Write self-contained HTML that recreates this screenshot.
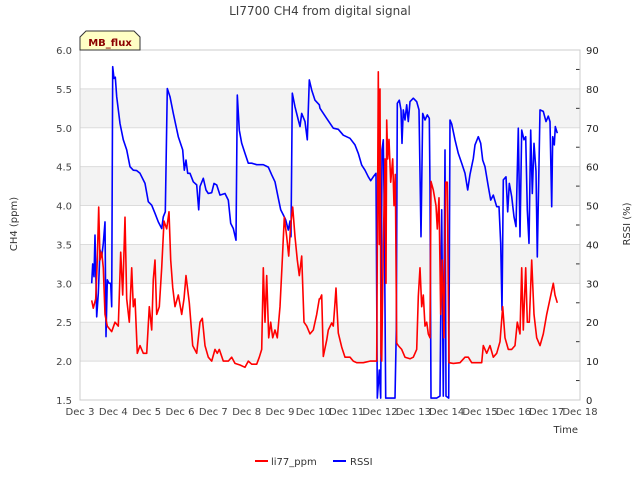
<!DOCTYPE html>
<html><head><meta charset="utf-8"><style>
body{margin:0;background:#fff;}
svg{display:block;font-family:"DejaVu Sans","Liberation Sans",sans-serif;}
</style></head><body>
<svg id="chart" width="640" height="480" viewBox="0 0 640 480" xmlns="http://www.w3.org/2000/svg">
<rect width="640" height="480" fill="#fff"/>
<text x="320" y="15" text-anchor="middle" font-size="12" fill="#404040">LI7700 CH4 from digital signal</text>
<g id="plot"></g>
<text transform="translate(17,224) rotate(-90)" text-anchor="middle" font-size="10" fill="#333">CH4 (ppm)</text>
<text transform="translate(630,224) rotate(-90)" text-anchor="middle" font-size="10" fill="#333">RSSI (%)</text>
<text x="578" y="433" text-anchor="end" font-size="10" fill="#333">Time</text>
<g>
<path d="M80,50 L80,37 L86,31 L134,31 L140,37 L140,50 Z" fill="#ffffc4" stroke="#333" stroke-width="1"/>
<text x="110" y="46" text-anchor="middle" font-size="10" font-weight="bold" fill="#8b0000">MB_flux</text>
</g>
<g>
<g><line x1="255" y1="461" x2="268" y2="461" stroke="#f00" stroke-width="2"/><text x="271" y="465" font-size="10" fill="#333">li77_ppm</text></g>
<g><line x1="333" y1="461" x2="346" y2="461" stroke="#00f" stroke-width="2"/><text x="350" y="465" font-size="10" fill="#333">RSSI</text></g>
</g>
</svg>
<script>
const xTickLabels=["Dec 3","Dec 4","Dec 5","Dec 6","Dec 7","Dec 8","Dec 9","Dec 10","Dec 11","Dec 12","Dec 13","Dec 14","Dec 15","Dec 16","Dec 17","Dec 18"];
const yTicks=[1.5,2.0,2.5,3.0,3.5,4.0,4.5,5.0,5.5,6.0];
const y2Ticks=[0,10,20,30,40,50,60,70,80,90];
const ch4Days=[0.35,0.4,0.47,0.52,0.56,0.6,0.65,0.7,0.75,0.82,0.95,1.05,1.15,1.22,1.28,1.35,1.4,1.48,1.55,1.6,1.65,1.72,1.8,1.9,2.0,2.08,2.15,2.2,2.25,2.3,2.38,2.45,2.52,2.6,2.67,2.72,2.78,2.85,2.95,3.05,3.12,3.18,3.28,3.38,3.5,3.6,3.67,3.75,3.85,3.95,4.05,4.12,4.18,4.3,4.45,4.55,4.65,4.8,4.95,5.05,5.15,5.3,5.38,5.45,5.5,5.55,5.6,5.66,5.72,5.78,5.85,5.92,6.0,6.07,6.13,6.2,6.26,6.32,6.38,6.45,6.52,6.58,6.65,6.72,6.8,6.9,7.0,7.1,7.18,7.2,7.25,7.3,7.4,7.45,7.55,7.6,7.65,7.68,7.7,7.75,7.85,7.95,8.1,8.2,8.3,8.5,8.7,8.9,8.95,8.98,9.0,9.03,9.05,9.1,9.15,9.18,9.2,9.23,9.27,9.32,9.38,9.42,9.46,9.5,9.55,9.65,9.75,9.9,10.0,10.1,10.15,10.2,10.25,10.3,10.35,10.4,10.45,10.5,10.53,10.6,10.68,10.72,10.77,10.82,10.87,10.92,10.97,11.02,11.07,11.2,11.4,11.55,11.65,11.75,12.05,12.1,12.2,12.3,12.4,12.5,12.6,12.68,12.75,12.85,12.95,13.05,13.12,13.2,13.25,13.3,13.37,13.42,13.48,13.55,13.62,13.7,13.8,13.9,14.0,14.1,14.2,14.25,14.32];
const ch4Values=[2.78,2.68,2.8,3.3,3.98,3.3,3.4,3.2,2.6,2.45,2.38,2.5,2.45,3.4,2.85,3.85,2.8,2.5,3.2,2.7,2.8,2.1,2.2,2.1,2.1,2.7,2.4,3.05,3.3,2.6,2.7,3.2,3.8,3.7,3.92,3.3,2.95,2.7,2.85,2.6,2.8,3.1,2.75,2.2,2.1,2.5,2.55,2.2,2.05,2.0,2.15,2.1,2.15,2.0,2.0,2.05,1.97,1.95,1.92,2.0,1.96,1.96,2.05,2.15,3.2,2.5,3.1,2.3,2.5,2.3,2.4,2.3,2.7,3.3,3.85,3.6,3.35,3.75,3.98,3.6,3.3,3.1,3.35,2.5,2.45,2.35,2.4,2.6,2.8,2.8,2.85,2.06,2.27,2.4,2.49,2.45,2.75,2.94,2.75,2.36,2.18,2.05,2.05,2.0,1.98,1.98,2.0,2.0,5.72,3.5,5.5,2.1,2.0,3.5,4.6,3.0,5.1,4.6,4.85,4.3,4.6,4.0,4.4,2.23,2.2,2.15,2.05,2.03,2.05,2.15,2.83,3.2,2.7,2.85,2.45,2.5,2.35,2.3,4.31,4.2,4.0,3.7,4.1,2.6,3.3,2.3,4.3,4.3,1.98,1.97,1.98,2.05,2.05,1.98,1.98,2.2,2.1,2.2,2.05,2.1,2.25,2.7,2.3,2.15,2.15,2.2,2.5,2.35,3.2,2.4,3.2,2.5,2.5,3.3,2.6,2.3,2.2,2.35,2.6,2.8,3.0,2.85,2.75];
const rssiDays=[0.35,0.38,0.42,0.45,0.5,0.55,0.6,0.65,0.7,0.75,0.78,0.82,0.87,0.92,0.95,0.98,1.02,1.06,1.1,1.2,1.3,1.4,1.5,1.6,1.7,1.8,1.95,2.05,2.15,2.25,2.35,2.45,2.5,2.56,2.62,2.7,2.8,2.95,3.08,3.13,3.18,3.23,3.3,3.4,3.5,3.56,3.6,3.7,3.78,3.85,3.95,4.02,4.1,4.2,4.35,4.45,4.52,4.6,4.68,4.72,4.78,4.85,4.95,5.05,5.15,5.3,5.5,5.65,5.75,5.85,5.95,6.02,6.1,6.17,6.25,6.3,6.33,6.37,6.45,6.55,6.6,6.65,6.75,6.82,6.88,6.95,7.05,7.18,7.2,7.4,7.6,7.75,7.9,8.1,8.25,8.35,8.45,8.55,8.65,8.72,8.8,8.88,8.92,8.98,9.02,9.06,9.1,9.13,9.17,9.3,9.45,9.49,9.52,9.58,9.63,9.66,9.7,9.75,9.8,9.85,9.9,10.0,10.1,10.17,10.23,10.28,10.35,10.42,10.48,10.5,10.53,10.7,10.8,10.85,10.9,10.95,10.98,11.06,11.1,11.15,11.25,11.35,11.45,11.55,11.63,11.7,11.8,11.85,11.95,12.02,12.08,12.15,12.25,12.32,12.4,12.5,12.57,12.62,12.66,12.7,12.78,12.83,12.88,12.95,13.02,13.08,13.15,13.2,13.25,13.32,13.37,13.42,13.47,13.52,13.57,13.62,13.68,13.72,13.8,13.9,13.98,14.05,14.1,14.15,14.18,14.23,14.26,14.32];
const rssiValues=[30,35,31.7,42.4,21.4,27.4,38.6,36.8,40.3,45.8,16.3,30.9,30,30,24,85.7,82.7,83,78,71.1,66.9,64.3,60,59.1,59,58.3,55.7,51,50.1,48,45.8,44.1,47.1,48.4,80.1,78,73.7,67.7,64.3,59.1,61.7,58.3,58.3,56.1,55.3,48.9,54.9,57,54,53.1,53.3,55.7,55.3,52.7,53.1,51.4,45.4,44.1,41.1,78.4,69.4,66,63.4,60.9,60.9,60.5,60.5,59.9,57.9,56.1,51.9,48.9,47.6,46.3,43.7,46,42,78.9,75.4,72,70.3,73.7,71.6,66.9,82.3,79.7,77.1,75.9,75,72.4,69.9,69.6,68.1,67.3,65.6,63.4,60.4,59.1,57.4,56.4,57.4,58.3,0.5,7.7,0.5,64.3,66.9,47,0.5,0.5,0.5,18,76.3,77.1,74.6,66,74.6,72,75.9,71.6,76.7,77.6,76.7,74.6,42,73.7,72,73.3,72.4,54.9,0.5,0.5,1,48.9,1,64.3,1,0.5,72,71,66.9,63.4,60.9,58.3,54,58,62.1,65.6,67.7,66,61.7,60,54.9,51.4,52.7,49.7,49.7,40.3,23.1,56.6,57.4,48.4,55.7,52.3,47.1,44.6,69.9,42,69.4,66.9,67.7,48.9,40.3,69.4,53.1,66,58.8,36.8,74.6,74.2,71.6,73,71.6,49.7,67.7,65.6,70.3,68.6];

const L=80,R=580,T=50,B=400;
const xS=d=>L+(R-L)*d/15;
const yS=v=>B-(B-T)*(v-1.5)/4.5;
const y2S=v=>B-(B-T)*v/90;
const NS="http://www.w3.org/2000/svg";
const plot=document.getElementById('plot');
function mk(tag,attrs){const e=document.createElementNS(NS,tag);for(const k in attrs)e.setAttribute(k,attrs[k]);return e;}
for(let i=0;i<yTicks.length-1;i++){
  if(i%2===1){
    const r=mk('rect',{x:L,y:yS(yTicks[i+1]),width:R-L,height:yS(yTicks[i])-yS(yTicks[i+1]),fill:'#f3f3f3'});
    
    
    plot.appendChild(r);
  }
}
yTicks.forEach(v=>{
  const g=mk('line',{x1:L,x2:R,y1:yS(v),y2:yS(v),stroke:'#dcdcdc','stroke-width':1});
  
  
  plot.appendChild(g);
  const t=mk('text',{x:L-8,y:yS(v)+4,'text-anchor':'end','font-size':10,fill:'#444'});
  t.textContent=v.toFixed(1);
  
  
  plot.appendChild(t);
});
y2Ticks.forEach((v,i)=>{
  const t=mk('text',{x:R+6,y:y2S(v)+4,'font-size':10,fill:'#222'});
  t.textContent=v;
  
  
  plot.appendChild(t);
  if(i<y2Ticks.length-1){
    const m=mk('line',{x1:R-4,x2:R,y1:y2S(v+5),y2:y2S(v+5),stroke:'#333','stroke-width':1});
    
    
    plot.appendChild(m);
  }
});
const frame=mk('rect',{x:L,y:T,width:R-L,height:B-T,fill:'none',stroke:'#ccc','stroke-width':1});


plot.appendChild(frame);
xTickLabels.forEach((s,i)=>{
  const t=mk('text',{x:xS(i),y:B+15,'text-anchor':'middle','font-size':10,fill:'#444'});
  t.textContent=s;
  
  
  plot.appendChild(t);
});
function series(days,vals,sc,color,name){
  const pts=days.map((d,i)=>xS(d).toFixed(1)+','+sc(vals[i]).toFixed(1)).join(' ');
  const p=mk('polyline',{points:pts,fill:'none',stroke:color,'stroke-width':1.6,'stroke-linejoin':'round'});
  
  
  plot.appendChild(p);
}
series(rssiDays,rssiValues,y2S,'#0000ff','rssi-line');
series(ch4Days,ch4Values,yS,'#ff0000','li77-ppm-line');
</script>
</body></html>
